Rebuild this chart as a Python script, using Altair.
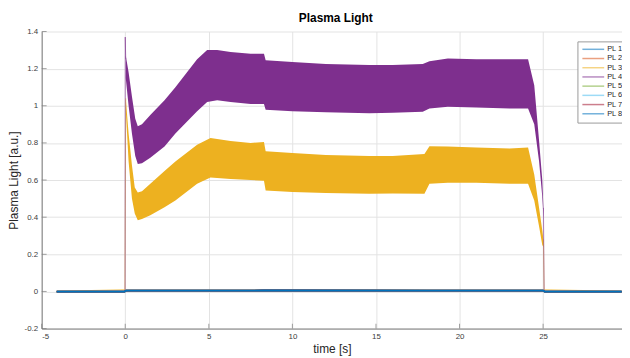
import altair as alt
import pandas as pd

# ---------------- data ----------------
series_names = ["PL 1", "PL 2", "PL 3", "PL 4", "PL 5", "PL 6", "PL 7", "PL 8"]
series_colors = ["#0072BD", "#D95319", "#EDB120", "#7E2F8E",
                 "#77AC30", "#4DBEEE", "#A2142F", "#0072BD"]

x_ticks = [-5, 0, 5, 10, 15, 20, 25]
y_ticks = [-0.2, 0, 0.2, 0.4, 0.6, 0.8, 1.0, 1.2, 1.4]

# PL 4 envelope (oscillating band)
t_pl4 = [0.03, 0.2, 0.4, 0.6, 0.75, 1.0, 1.5, 2.35, 3.0, 4.3, 4.9, 5.5, 6.3, 7.5,
         8.3, 8.4, 10, 12, 14.6, 16, 17.8, 18.2, 19.3, 21, 23, 24.1, 24.47, 24.76,
         24.95, 25.02]
pl4_hi = [1.27, 1.18, 1.05, 0.93, 0.89, 0.90, 0.95, 1.03, 1.10, 1.25, 1.30, 1.30,
          1.29, 1.28, 1.28, 1.245, 1.235, 1.225, 1.22, 1.22, 1.225, 1.24, 1.255,
          1.25, 1.25, 1.25, 1.11, 0.81, 0.60, 0.45]
pl4_lo = [1.15, 1.00, 0.85, 0.73, 0.686, 0.69, 0.72, 0.78, 0.85, 0.97, 1.02, 1.03,
          1.02, 1.01, 1.01, 0.978, 0.97, 0.965, 0.96, 0.962, 0.968, 0.985, 0.995,
          0.99, 0.985, 0.985, 0.90, 0.70, 0.51, 0.40]

# PL 3 envelope (oscillating band)
t_pl3 = [0.03, 0.2, 0.4, 0.57, 0.75, 1.0, 1.5, 2.35, 3.0, 4.3, 5.1, 6.3, 7.5, 8.3,
         8.4, 10, 12, 14.6, 16, 17.9, 18.2, 19.3, 21, 23, 24.1, 24.47, 24.76, 24.95,
         25.02]
pl3_hi = [1.04, 0.85, 0.68, 0.56, 0.533, 0.54, 0.58, 0.649, 0.70, 0.79, 0.826, 0.81,
          0.80, 0.805, 0.755, 0.745, 0.735, 0.729, 0.73, 0.74, 0.782, 0.78, 0.775,
          0.77, 0.775, 0.63, 0.45, 0.33, 0.28]
pl3_lo = [0.98, 0.70, 0.50, 0.42, 0.383, 0.39, 0.41, 0.454, 0.49, 0.58, 0.613, 0.606,
          0.60, 0.596, 0.543, 0.535, 0.53, 0.526, 0.527, 0.526, 0.58, 0.585, 0.585,
          0.58, 0.58, 0.49, 0.35, 0.25, 0.24]

# thin transition traces (start / end of discharge) for PL 3 and PL 4
t_pl4_start = [-4.1, -0.01, 0.0, 0.03]
v_pl4_start = [0.0, 0.0, 1.37, 1.25]
t_pl4_end = [25.02, 25.06, 29.7]
v_pl4_end = [0.45, 0.0, 0.0]
t_pl3_start = [-4.1, -0.02, 0.03]
v_pl3_start = [0.0, 0.01, 1.04]
t_pl3_end = [25.02, 25.06, 29.7]
v_pl3_end = [0.28, 0.01, 0.0]

# baseline channels that stay near zero
t_base = [-4.1, -0.05, 0.05, 8.3, 18.0, 25.0, 25.1, 29.7]
pl1_v = [-0.001, -0.001, 0.004, 0.005, 0.004, 0.004, -0.001, -0.001]
pl2_v = [-0.001, -0.001, 0.004, 0.005, 0.004, 0.004, -0.001, -0.001]
pl5_v = [-0.001, -0.001, 0.004, 0.005, 0.004, 0.004, -0.001, -0.001]
pl6_v = [-0.001, -0.001, 0.004, 0.005, 0.004, 0.004, -0.001, -0.001]
pl7_v = [-0.001, -0.001, 0.004, 0.005, 0.004, 0.004, -0.001, -0.001]
pl8_v = [-0.001, -0.001, 0.004, 0.005, 0.004, 0.004, -0.001, -0.001]

# ---------------- tables ----------------
band_rows = []
for t, hi, lo in zip(t_pl3, pl3_hi, pl3_lo):
    band_rows.append({"t": t, "hi": hi, "lo": lo, "series": "PL 3"})
for t, hi, lo in zip(t_pl4, pl4_hi, pl4_lo):
    band_rows.append({"t": t, "hi": hi, "lo": lo, "series": "PL 4"})
band_df = pd.DataFrame(band_rows)

trace_rows = []
for seg, (ts, vs, name) in enumerate([
        (t_pl3_start, v_pl3_start, "PL 3"), (t_pl3_end, v_pl3_end, "PL 3"),
        (t_pl4_start, v_pl4_start, "PL 4"), (t_pl4_end, v_pl4_end, "PL 4")]):
    for t, v in zip(ts, vs):
        trace_rows.append({"t": t, "v": v, "series": name, "seg": f"s{seg}"})
trace_df = pd.DataFrame(trace_rows)

base_rows = []
for name, vals in [("PL 1", pl1_v), ("PL 2", pl2_v), ("PL 5", pl5_v),
                   ("PL 6", pl6_v), ("PL 7", pl7_v), ("PL 8", pl8_v)]:
    for t, v in zip(t_base, vals):
        base_rows.append({"t": t, "v": v, "series": name})
base_df = pd.DataFrame(base_rows)

xtick_df = pd.DataFrame({"x": x_ticks})
ytick_df = pd.DataFrame({"y": y_ticks})

# ---------------- chart ----------------
W, H = 586, 300
x_scale = alt.Scale(domain=[-5, 29.72], nice=False, zero=False)
y_scale = alt.Scale(domain=[-0.2, 1.4], nice=False, zero=False)
c_scale = alt.Scale(domain=series_names, range=series_colors)

x_axis = alt.Axis(values=x_ticks, title="time [s]", labelExpr="toString(datum.value)",
                  labelOverlap=False)
y_axis = alt.Axis(values=y_ticks, title="Plasma Light [a.u.]",
                  labelExpr="toString(round(datum.value*10)/10)",
                  labelOverlap=False)

legend = alt.Legend(
    title=None, orient="none", legendX=541, legendY=10,
    symbolType="stroke", symbolSize=484, symbolStrokeWidth=1.5, symbolOpacity=0.55,
    labelFontSize=7.5, labelColor="#262626", labelOffset=2,
    clipHeight=8, rowPadding=1.3, padding=4,
    strokeColor="#9a9a9a", fillColor="#ffffff",
)
color_enc = alt.Color("series:N", scale=c_scale, legend=legend)

bands = alt.Chart(band_df).mark_area(opacity=1, interpolate="linear").encode(
    x=alt.X("t:Q", scale=x_scale, axis=x_axis),
    y=alt.Y("hi:Q", scale=y_scale, axis=y_axis),
    y2="lo:Q",
    color=color_enc,
)

traces = alt.Chart(trace_df).mark_line(strokeWidth=1, opacity=0.6).encode(
    x=alt.X("t:Q", scale=x_scale, axis=x_axis),
    y=alt.Y("v:Q", scale=y_scale, axis=y_axis),
    detail="seg:N",
    color=color_enc,
)

baselines = alt.Chart(base_df).mark_line(strokeWidth=1.8).encode(
    x=alt.X("t:Q", scale=x_scale, axis=x_axis),
    y=alt.Y("v:Q", scale=y_scale, axis=y_axis),
    color=color_enc,
)

xticks = alt.Chart(xtick_df).mark_tick(color="#7a7a7a", thickness=1, size=5).encode(
    x=alt.X("x:Q", scale=x_scale, axis=x_axis), y=alt.value(H - 2.5)
)
yticks = alt.Chart(ytick_df).mark_tick(color="#7a7a7a", thickness=1, size=5).encode(
    y=alt.Y("y:Q", scale=y_scale, axis=y_axis), x=alt.value(2.5)
)

chart = alt.layer(bands, traces, baselines, xticks, yticks).properties(
    width=W, height=H,
    title=alt.TitleParams("Plasma Light", fontSize=12, fontWeight="bold",
                          color="#000000", anchor="middle", offset=3, dx=4),
    autosize=alt.AutoSizeParams(type="none"),
    padding={"left": 34, "top": 22, "right": 0, "bottom": 28},
).configure(
    font="Liberation Sans",
).configure_view(
    stroke=None,
).configure_axis(
    grid=True, gridColor="#e3e3e3", gridWidth=1,
    domainColor="#7a7a7a", domainWidth=1,
    ticks=False, labelFontSize=8, labelColor="#404040", labelPadding=4,
    titleFontSize=12, titleFontWeight="normal", titleColor="#262626",
).configure_axisX(
    titlePadding=3,
).configure_axisY(
    titlePadding=4,
)

chart.save("out.html", embed_options={"renderer": "svg", "actions": False})
